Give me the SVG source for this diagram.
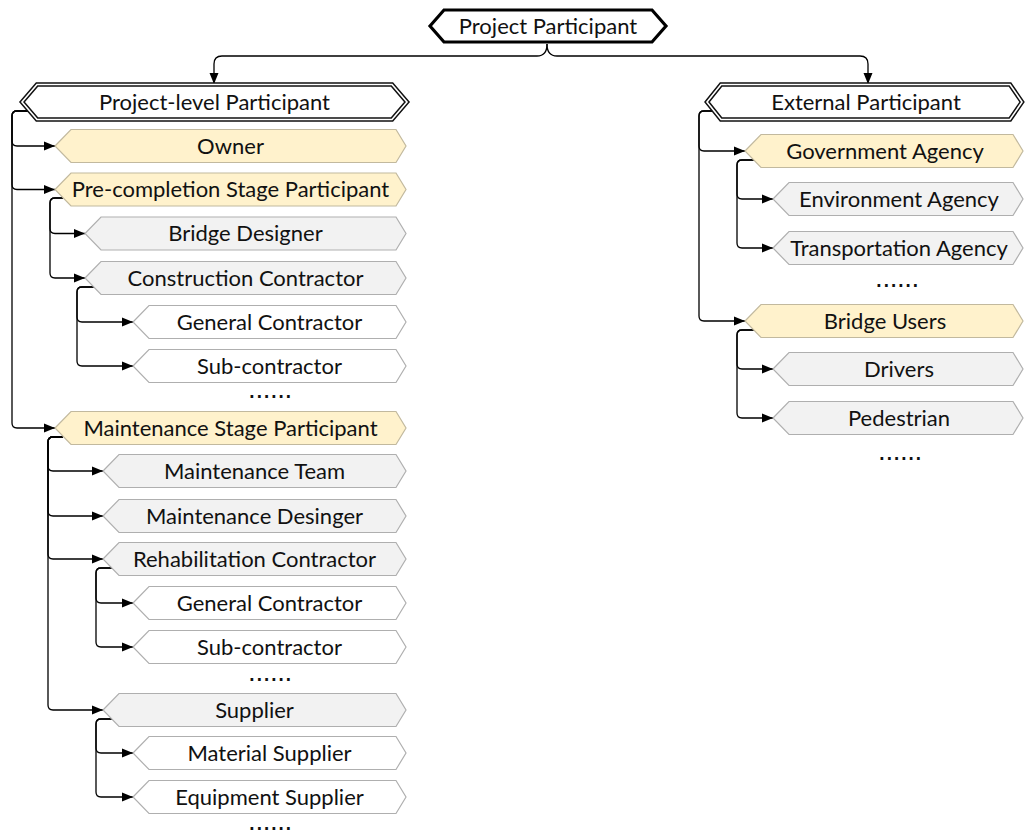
<svg xmlns="http://www.w3.org/2000/svg" width="1025" height="834" viewBox="0 0 1025 834">
<style>
text{font-family:Lato,"Open Sans","Liberation Sans",sans-serif;font-size:22px;fill:#111;text-anchor:middle}
.y{fill:#FFF2CC;stroke:#C2B99E;stroke-width:1.2}
.g{fill:#F2F2F2;stroke:#AFAFAF;stroke-width:1.2}
.w{fill:#FFFFFF;stroke:#AFAFAF;stroke-width:1.2}
.d1{fill:#FFFFFF;stroke:#111;stroke-width:4.6}
.d2{fill:none;stroke:#FFFFFF;stroke-width:1.6}
.top{fill:#FFFFFF;stroke:#000;stroke-width:3.2}
.c{fill:none;stroke:#000;stroke-width:1.3;marker-end:url(#ah)}
text.dots{font-family:"DejaVu Sans",sans-serif;font-size:15px;font-weight:bold;letter-spacing:1.6px}
</style>
<defs>
<marker id="ah" markerUnits="userSpaceOnUse" markerWidth="12" markerHeight="10" refX="11" refY="5" orient="auto">
<path d="M0,0.5 L11,5 L0,9.5 z" fill="#000"/>
</marker>
</defs>
<g id="connectors">
<path class="c" d="M547,44 Q547,56 537,56 H222 Q214,56 214,64 V84"/>
<path class="c" d="M547,44 Q547,56 557,56 H860 Q868,56 868,64 V84"/>
<path class="c" d="M29,111 H17 Q12,111 12,116 V141 Q12,146 17,146 H55"/>
<path class="c" d="M29,111 H17 Q12,111 12,116 V184.5 Q12,189.5 17,189.5 H55"/>
<path class="c" d="M29,111 H17 Q12,111 12,116 V423 Q12,428 17,428 H55"/>
<path class="c" d="M63,198 H55 Q50,198 50,203 V228.5 Q50,233.5 55,233.5 H85"/>
<path class="c" d="M63,198 H55 Q50,198 50,203 V273 Q50,278 55,278 H85"/>
<path class="c" d="M94,287 H82 Q77,287 77,292 V317 Q77,322 82,322 H133"/>
<path class="c" d="M94,287 H82 Q77,287 77,292 V361 Q77,366 82,366 H133"/>
<path class="c" d="M63,437 H53 Q48,437 48,442 V466 Q48,471 53,471 H103"/>
<path class="c" d="M63,437 H53 Q48,437 48,442 V511 Q48,516 53,516 H103"/>
<path class="c" d="M63,437 H53 Q48,437 48,442 V554 Q48,559 53,559 H103"/>
<path class="c" d="M63,437 H53 Q48,437 48,442 V705 Q48,710 53,710 H103"/>
<path class="c" d="M112,568 H101 Q96,568 96,573 V598 Q96,603 101,603 H133"/>
<path class="c" d="M112,568 H101 Q96,568 96,573 V642 Q96,647 101,647 H133"/>
<path class="c" d="M112,719 H101 Q96,719 96,724 V748 Q96,753 101,753 H133"/>
<path class="c" d="M112,719 H101 Q96,719 96,724 V792 Q96,797 101,797 H133"/>
<path class="c" d="M714,111 H704 Q699,111 699,116 V146 Q699,151 704,151 H745"/>
<path class="c" d="M714,111 H704 Q699,111 699,116 V316 Q699,321 704,321 H745"/>
<path class="c" d="M754,160 H742 Q737,160 737,165 V194 Q737,199 742,199 H773"/>
<path class="c" d="M754,160 H742 Q737,160 737,165 V243 Q737,248 742,248 H773"/>
<path class="c" d="M754,330 H742 Q737,330 737,335 V364 Q737,369 742,369 H773"/>
<path class="c" d="M754,330 H742 Q737,330 737,335 V413 Q737,418 742,418 H773"/>
</g>
<g id="n-project-participant">
<polygon class="top" points="430,26 444,10 652,10 666,26 652,42 444,42"/>
<text x="548" y="33.5">Project Participant</text>
</g>
<g id="n-project-level">
<polygon class="d1" points="22,102 37,84.5 392,84.5 407,102 392,119.5 37,119.5"/>
<polygon class="d2" points="22,102 37,84.5 392,84.5 407,102 392,119.5 37,119.5"/>
<text x="214.5" y="109.5">Project-level Participant</text>
</g>
<g id="n-owner">
<polygon class="y" points="55,146 71,129.5 396,129.5 406,146 396,162.5 71,162.5"/>
<text x="230.5" y="153.5">Owner</text>
</g>
<g id="n-precompletion">
<polygon class="y" points="55,189.5 71,173 396,173 406,189.5 396,206 71,206"/>
<text x="230.5" y="197">Pre-completion Stage Participant</text>
</g>
<g id="n-bridge-designer">
<polygon class="g" points="85,233.5 101,217 396,217 406,233.5 396,250 101,250"/>
<text x="245.5" y="241">Bridge Designer</text>
</g>
<g id="n-construction-contractor">
<polygon class="g" points="85,278 101,261.5 396,261.5 406,278 396,294.5 101,294.5"/>
<text x="245.5" y="285.5">Construction Contractor</text>
</g>
<g id="n-general-contractor-1">
<polygon class="w" points="133,322 149,305.5 396,305.5 406,322 396,338.5 149,338.5"/>
<text x="269.5" y="329.5">General Contractor</text>
</g>
<g id="n-sub-contractor-1">
<polygon class="w" points="133,366 149,349.5 396,349.5 406,366 396,382.5 149,382.5"/>
<text x="269.5" y="373.5">Sub-contractor</text>
</g>
<text class="dots" x="271" y="398">......</text>
<g id="n-maintenance-stage">
<polygon class="y" points="55,428 71,411.5 396,411.5 406,428 396,444.5 71,444.5"/>
<text x="230.5" y="435.5">Maintenance Stage Participant</text>
</g>
<g id="n-maintenance-team">
<polygon class="g" points="103,471 119,454.5 396,454.5 406,471 396,487.5 119,487.5"/>
<text x="254.5" y="478.5">Maintenance Team</text>
</g>
<g id="n-maintenance-desinger">
<polygon class="g" points="103,516 119,499.5 396,499.5 406,516 396,532.5 119,532.5"/>
<text x="254.5" y="523.5">Maintenance Desinger</text>
</g>
<g id="n-rehabilitation-contractor">
<polygon class="g" points="103,559 119,542.5 396,542.5 406,559 396,575.5 119,575.5"/>
<text x="254.5" y="566.5">Rehabilitation Contractor</text>
</g>
<g id="n-general-contractor-2">
<polygon class="w" points="133,603 149,586.5 396,586.5 406,603 396,619.5 149,619.5"/>
<text x="269.5" y="610.5">General Contractor</text>
</g>
<g id="n-sub-contractor-2">
<polygon class="w" points="133,647 149,630.5 396,630.5 406,647 396,663.5 149,663.5"/>
<text x="269.5" y="654.5">Sub-contractor</text>
</g>
<text class="dots" x="271" y="681">......</text>
<g id="n-supplier">
<polygon class="g" points="103,710 119,693.5 396,693.5 406,710 396,726.5 119,726.5"/>
<text x="254.5" y="717.5">Supplier</text>
</g>
<g id="n-material-supplier">
<polygon class="w" points="133,753 149,736.5 396,736.5 406,753 396,769.5 149,769.5"/>
<text x="269.5" y="760.5">Material Supplier</text>
</g>
<g id="n-equipment-supplier">
<polygon class="w" points="133,797 149,780.5 396,780.5 406,797 396,813.5 149,813.5"/>
<text x="269.5" y="804.5">Equipment Supplier</text>
</g>
<text class="dots" x="271" y="830">......</text>
<g id="n-external">
<polygon class="d1" points="707,102 721,84.5 1010,84.5 1022,102 1010,119.5 721,119.5"/>
<polygon class="d2" points="707,102 721,84.5 1010,84.5 1022,102 1010,119.5 721,119.5"/>
<text x="866" y="109.5">External Participant</text>
</g>
<g id="n-government">
<polygon class="y" points="745,151 761,134.5 1013,134.5 1023,151 1013,167.5 761,167.5"/>
<text x="885" y="158.5">Government Agency</text>
</g>
<g id="n-environment">
<polygon class="g" points="773,199 789,182.5 1013,182.5 1023,199 1013,215.5 789,215.5"/>
<text x="899" y="206.5">Environment Agency</text>
</g>
<g id="n-transportation">
<polygon class="g" points="773,248 789,231.5 1013,231.5 1023,248 1013,264.5 789,264.5"/>
<text x="899" y="255.5">Transportation Agency</text>
</g>
<text class="dots" x="898" y="287">......</text>
<g id="n-bridge-users">
<polygon class="y" points="745,321 761,304.5 1013,304.5 1023,321 1013,337.5 761,337.5"/>
<text x="885" y="328.5">Bridge Users</text>
</g>
<g id="n-drivers">
<polygon class="g" points="773,369 789,352.5 1013,352.5 1023,369 1013,385.5 789,385.5"/>
<text x="899" y="376.5">Drivers</text>
</g>
<g id="n-pedestrian">
<polygon class="g" points="773,418 789,401.5 1013,401.5 1023,418 1013,434.5 789,434.5"/>
<text x="899" y="425.5">Pedestrian</text>
</g>
<text class="dots" x="901" y="460">......</text>
</svg>
